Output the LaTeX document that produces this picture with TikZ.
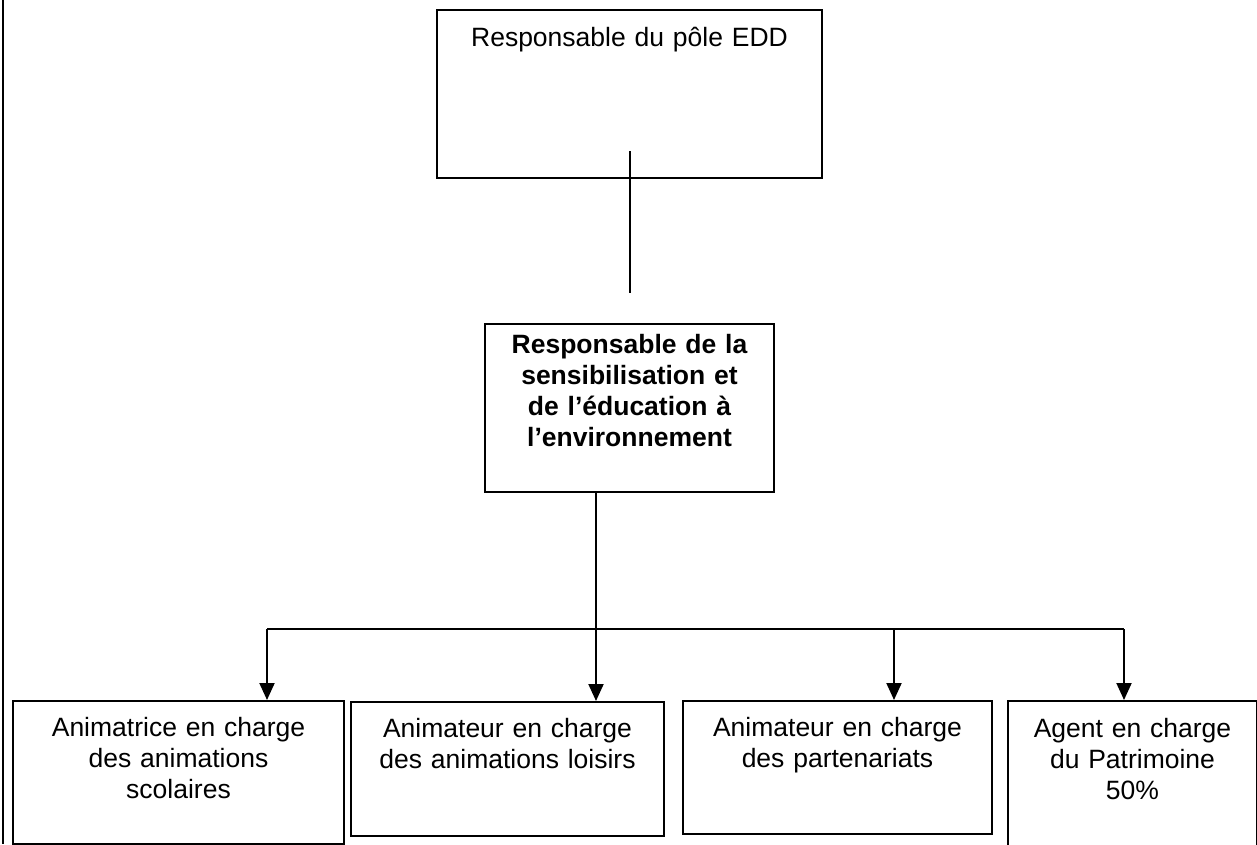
\documentclass[tikz,border=0pt]{standalone}
\usepackage{fontspec}
\setmainfont{Liberation Sans}
\usetikzlibrary{arrows.meta}
\begin{document}
\begin{tikzpicture}[x=1pt, y=-1pt, line width=2pt, >={Triangle[width=15pt,length=17pt]},
    box/.style = {draw, anchor=north west, inner sep=0pt, align=center, font=\fontsize{26.5}{31}\selectfont}]
    \useasboundingbox (0,0) rectangle (1257,844);
    \draw (3,0) -- (3,844);

    \node[box, text width=385pt, text height=36pt, text depth=132pt] (pole) at (436,9) {Responsable du pôle EDD};
    \node[box, text width=289pt, text height=29.7pt, text depth=138.3pt, font=\fontsize{26.5}{31}\selectfont\bfseries] (resp) at (484,323)
        {Responsable de la\\ sensibilisation et\\ de l’éducation à\\ l’environnement};

    \node[box, text width=331pt, text height=35.5pt, text depth=107pt] (scol) at (12,700) {Animatrice en charge\\ des animations\\ scolaires};
    \node[box, text width=313pt, text height=35.5pt, text depth=98.5pt] (lois) at (350,701) {Animateur en charge\\ des animations loisirs};
    \node[box, text width=309pt, text height=35.5pt, text depth=97.5pt] (part) at (682,700) {Animateur en charge\\ des partenariats};
    \node[box, text width=249pt, text height=36.5pt, text depth=114pt] (patr) at (1007,700) {Agent en charge\\ du Patrimoine\\ 50\%};

    \coordinate (tie) at (628,293);
    \coordinate (s1) at (267,629);
    \coordinate (s2) at (596,629);
    \coordinate (s3) at (894,629);
    \coordinate (s4) at (1124,629);

    \draw ([yshift=28pt]pole.south) -- (pole.south |- tie);
    \draw[->] (resp.south -| s2) -- (lois.north -| s2);
    \draw (s1) -- (s4);
    \foreach \s/\b in {s1/scol, s3/part, s4/patr}
        \draw[->] (\s) -- (\b.north -| \s);
\end{tikzpicture}
\end{document}
